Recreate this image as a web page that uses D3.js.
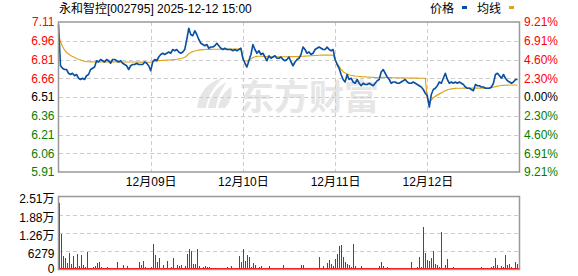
<!DOCTYPE html>
<html>
<head>
<meta charset="utf-8">
<script src="https://cdn.jsdelivr.net/npm/d3@7"></script>
<style>
html, body { margin: 0; padding: 0; background: #fff; }
svg { display: block; }
</style>
</head>
<body>
<svg id="drawing_region"></svg>
<script>
// 5-day minute chart, one value every ~5 minutes (46 per day)
const title = '永和智控[002795] 2025-12-12 15:00';
const days = ['12月08日', '12月09日', '12月10日', '12月11日', '12月12日'];
const preClose = 6.51;
const priceTicks = [7.11, 6.96, 6.81, 6.66, 6.51, 6.36, 6.21, 6.06, 5.91];
const pctLabels = ['9.21%', '6.91%', '4.60%', '2.30%', '0.00%', '2.30%', '4.60%', '6.91%', '9.21%'];
const volTicks = [25116, 18837, 12558, 6279, 0];
const volLabels = ['2.51万', '1.88万', '1.26万', '6279', '0'];

const price1 = [7.09,6.76,6.74,6.73,6.73,6.70,6.69,6.70,6.68,6.69,6.66,6.65,6.66,6.65,6.68,6.69,6.73,6.74,6.75,6.80,6.79,6.81,6.80,6.79,6.81,6.80,6.78,6.81,6.81,6.80,6.79,6.80,6.78,6.77,6.76,6.73,6.76,6.77,6.77,6.78,6.77,6.77,6.77,6.79,6.78,6.76];
const price2 = [6.72,6.79,6.81,6.80,6.83,6.85,6.86,6.85,6.86,6.87,6.86,6.89,6.88,6.89,6.87,6.86,6.87,6.89,6.97,7.06,7.01,7.00,7.04,7.01,6.97,6.94,6.93,6.92,6.93,6.90,6.91,6.91,6.92,6.94,6.92,6.90,6.89,6.90,6.89,6.89,6.89,6.88,6.89,6.88,6.89,6.90];
const price3 = [6.82,6.78,6.75,6.80,6.85,6.93,6.89,6.86,6.88,6.85,6.86,6.83,6.80,6.84,6.82,6.83,6.84,6.82,6.82,6.83,6.81,6.80,6.81,6.83,6.79,6.76,6.79,6.81,6.82,6.85,6.91,6.89,6.86,6.87,6.85,6.86,6.89,6.90,6.91,6.90,6.89,6.89,6.91,6.89,6.88,6.89];
const price4 = [6.81,6.77,6.74,6.69,6.65,6.63,6.69,6.65,6.66,6.63,6.62,6.65,6.62,6.60,6.62,6.61,6.61,6.62,6.61,6.60,6.62,6.64,6.65,6.71,6.73,6.70,6.67,6.65,6.62,6.63,6.63,6.62,6.62,6.63,6.64,6.65,6.63,6.62,6.62,6.63,6.62,6.61,6.60,6.59,6.57,6.54];
const price5 = [6.52,6.43,6.53,6.57,6.58,6.60,6.63,6.62,6.66,6.70,6.65,6.62,6.63,6.62,6.63,6.62,6.63,6.62,6.61,6.59,6.58,6.58,6.57,6.56,6.61,6.60,6.60,6.59,6.59,6.58,6.58,6.58,6.59,6.62,6.69,6.70,6.68,6.66,6.69,6.66,6.64,6.63,6.62,6.63,6.65,6.65];

const avg1 = [7.010,6.950,6.914,6.886,6.866,6.854,6.842,6.834,6.826,6.818,6.812,6.806,6.801,6.796,6.793,6.792,6.791,6.791,6.790,6.790,6.790,6.790,6.790,6.791,6.791,6.791,6.791,6.791,6.791,6.790,6.790,6.790,6.790,6.790,6.790,6.790,6.790,6.790,6.790,6.790,6.789,6.789,6.789,6.789,6.789,6.788];
const avg2 = [6.788,6.792,6.796,6.799,6.801,6.802,6.803,6.804,6.805,6.806,6.807,6.808,6.810,6.812,6.815,6.818,6.822,6.828,6.840,6.856,6.866,6.873,6.878,6.882,6.885,6.887,6.889,6.890,6.891,6.891,6.891,6.892,6.892,6.892,6.892,6.893,6.893,6.893,6.893,6.893,6.893,6.893,6.893,6.893,6.893,6.893];
const avg3 = [6.810,6.800,6.797,6.803,6.815,6.826,6.832,6.835,6.836,6.836,6.835,6.834,6.833,6.833,6.832,6.832,6.832,6.832,6.832,6.832,6.832,6.832,6.832,6.833,6.833,6.833,6.833,6.833,6.833,6.834,6.836,6.837,6.838,6.839,6.840,6.841,6.842,6.843,6.844,6.845,6.845,6.845,6.845,6.845,6.845,6.845];
const avg4 = [6.810,6.780,6.755,6.730,6.712,6.702,6.694,6.688,6.684,6.681,6.678,6.676,6.674,6.673,6.672,6.671,6.670,6.669,6.668,6.667,6.666,6.666,6.666,6.667,6.667,6.667,6.666,6.665,6.665,6.664,6.664,6.664,6.663,6.663,6.663,6.662,6.662,6.662,6.661,6.661,6.661,6.661,6.660,6.660,6.660,6.660];
const avg5 = [6.500,6.465,6.486,6.505,6.515,6.525,6.535,6.543,6.552,6.560,6.567,6.572,6.575,6.577,6.579,6.580,6.580,6.580,6.581,6.581,6.581,6.581,6.581,6.581,6.581,6.581,6.581,6.581,6.581,6.581,6.582,6.582,6.584,6.588,6.593,6.597,6.600,6.602,6.603,6.604,6.605,6.606,6.606,6.606,6.606,6.606];

const vol1 = [23000,12300,4500,4000,2300,5800,2000,4700,900,5300,1200,5000,1500,700,6100,600,500,800,1200,2300,2500,700,400,500,1000,300,600,400,300,2700,300,400,1700,300,1200,600,300,300,300,300,2500,1500,2800,1000,500,400];
const vol2 = [700,8700,5000,2500,3800,500,1700,500,3000,400,800,3800,600,1700,1200,1500,600,1200,5300,7000,6500,1800,1800,7000,1200,500,800,1200,900,1000,400,600,300,500,300,300,400,300,800,300,1200,400,300,600,4700,2600];
const vol3 = [7000,3000,5000,4200,800,2300,1600,500,700,1200,400,300,600,1200,300,200,300,500,200,300,1500,300,200,300,200,200,300,200,600,1500,1700,300,200,200,300,200,400,500,4200,300,1200,300,2300,3200,1800,1200];
const vol4 = [3600,5300,8100,8400,4200,2700,2000,1500,1000,8900,1200,500,300,1200,300,200,200,300,400,200,300,600,1200,2700,1200,500,900,300,200,300,200,300,200,300,200,300,300,300,2500,500,200,900,4200,800,14600,5600];
const vol5 = [3400,3000,4000,6200,2000,1500,800,13000,600,1500,3600,500,300,900,300,200,200,300,400,400,400,200,200,500,200,200,300,700,200,200,300,200,900,1200,3800,1500,600,1200,800,5100,1500,1800,1000,600,2700,1800];

// 1 = up minute (red), 0 = down minute (green)
const up1 = '1000111111' + '1011110111' + '1110111011' + '1101011011' + '111101';
const up2 = '1010110101' + '1111111101' + '1111111000' + '1101111111' + '101101';
const up3 = '1010111111' + '1110111111' + '0111111111' + '0111111111' + '111111';
const up4 = '0110110010' + '0110111001' + '1101010111' + '1111111100' + '110101';
const up5 = '0101101110' + '0111110001' + '1111111111' + '1111110010' + '110010';

class MinuteChart {

    constructor( config ) {
        this.config = {
            parent: config.parent,
            width: config.width || 578,
            height: config.height || 276,
            left: 58.5,
            right: 519.5,
            top: 22,
            bottom: 172,
            vtop: 196.5,
            vbottom: 269.5
        };
        this.init();
    }

    init() {
        let self = this;
        self.per_day = price1.length;
        self.price = [price1, price2, price3, price4, price5].flat();
        self.avg = [avg1, avg2, avg3, avg4, avg5].flat();
        self.vol = [vol1, vol2, vol3, vol4, vol5].flat();
        self.up = (up1 + up2 + up3 + up4 + up5).split('').map(c => c == '1');

        self.svg = d3.select( self.config.parent )
            .attr('width', self.config.width)
            .attr('height', self.config.height);

        self.xscale = d3.scaleLinear()
            .domain([0, days.length * self.per_day])
            .range([self.config.left, self.config.right]);

        self.yscale = d3.scaleLinear()
            .domain([d3.min(priceTicks), d3.max(priceTicks)])
            .range([self.config.bottom, self.config.top]);

        self.vscale = d3.scaleLinear()
            .domain([0, d3.max(volTicks)])
            .range([self.config.vbottom, self.config.vtop]);

        self.line = d3.line()
            .x( (d, i) => self.xscale(i) )
            .y( d => self.yscale(d) );
    }

    render() {
        let self = this;
        const c = self.config;
        const font = '"Liberation Sans", Arial, "Noto Sans CJK SC", sans-serif';
        const tickColor = v => v > preClose ? '#ff0000' : (v < preClose ? '#008000' : '#000');

        // watermark
        const wm = self.svg.append('g').attr('fill', '#e6e6e6');
        wm.append('path').attr('d', 'M197,108 C199,93 207,82 223,78 C214,86 208,96 206,108 Z');
        wm.append('path').attr('d', 'M208,108 C210,96 216,87 227,82 C221,90 217,99 216,108 Z');
        wm.append('path').attr('d', 'M218,108 C220,99 224,91 231,87 C233,95 230,103 225,108 Z');
        wm.append('text')
            .attr('x', 239)
            .attr('y', 110)
            .attr('font-family', '"Noto Sans CJK SC", sans-serif')
            .attr('font-weight', 'bold')
            .attr('font-size', '35px')
            .text('东方财富');

        // grid
        const grid = self.svg.append('g')
            .attr('stroke', '#cccccc')
            .attr('stroke-dasharray', '4,3')
            .attr('shape-rendering', 'crispEdges');
        grid.selectAll('.hg')
            .data(priceTicks.slice(1, -1))
            .join('line')
            .attr('x1', c.left).attr('x2', c.right)
            .attr('y1', d => Math.round(self.yscale(d)) + 0.5)
            .attr('y2', d => Math.round(self.yscale(d)) + 0.5);
        grid.selectAll('.vg')
            .data(d3.range(1, days.length))
            .join('line')
            .attr('x1', d => Math.round(self.xscale(d * self.per_day)) + 0.5)
            .attr('x2', d => Math.round(self.xscale(d * self.per_day)) + 0.5)
            .attr('y1', c.top).attr('y2', c.bottom);
        grid.selectAll('.vvg')
            .data(volTicks.slice(1, -1))
            .join('line')
            .attr('x1', c.left).attr('x2', c.right)
            .attr('y1', d => Math.round(self.vscale(d)) + 0.5)
            .attr('y2', d => Math.round(self.vscale(d)) + 0.5);

        // volume bars
        self.svg.append('line')
            .attr('x1', c.left).attr('x2', c.right)
            .attr('y1', c.vbottom - 1).attr('y2', c.vbottom - 1)
            .attr('stroke', '#ff0000')
            .attr('stroke-width', 1);
        self.svg.append('g')
            .attr('shape-rendering', 'crispEdges')
            .selectAll('rect')
            .data(self.vol)
            .join('rect')
            .attr('x', (d, i) => Math.round(self.xscale(i)))
            .attr('width', 1)
            .attr('y', d => Math.min(self.vscale(d), c.vbottom - 1.5))
            .attr('height', d => Math.max(1.5, c.vbottom - self.vscale(d)))
            .attr('fill', (d, i) => self.up[i] ? '#ff0000' : '#008000');

        // price and average lines
        self.svg.append('path')
            .attr('d', self.line(self.avg))
            .attr('stroke', '#e0a31c')
            .attr('stroke-width', 1.2)
            .attr('fill', 'none');
        self.svg.append('path')
            .attr('d', self.line(self.price))
            .attr('stroke', '#0a4fa0')
            .attr('stroke-width', 1.6)
            .attr('stroke-linejoin', 'round')
            .attr('fill', 'none');

        // frames
        [[c.top, c.bottom], [c.vtop, c.vbottom]].forEach(([t, b]) => {
            self.svg.append('rect')
                .attr('x', c.left).attr('y', t)
                .attr('width', c.right - c.left).attr('height', b - t)
                .attr('fill', 'none')
                .attr('stroke', '#999999')
                .attr('stroke-width', 1.5);
        });

        // axes
        const left = self.svg.append('g')
            .attr('transform', `translate(${c.left}, 0)`)
            .call( d3.axisLeft(self.yscale).tickValues(priceTicks).tickSize(0).tickPadding(4).tickFormat(d3.format('.2f')) );
        const right = self.svg.append('g')
            .attr('transform', `translate(${c.right}, 0)`)
            .call( d3.axisRight(self.yscale).tickValues(priceTicks).tickSize(0).tickPadding(4.5).tickFormat((d, i) => pctLabels[i]) );
        [left, right].forEach(g => {
            g.select('.domain').remove();
            g.selectAll('text')
                .attr('font-family', font)
                .attr('font-size', 12)
                .attr('fill', d => tickColor(d));
        });

        const bottom = self.svg.append('g')
            .attr('transform', `translate(0, ${c.bottom})`)
            .call( d3.axisBottom(self.xscale)
                .tickValues(d3.range(1, days.length).map(d => d * self.per_day))
                .tickSize(0).tickPadding(5.5)
                .tickFormat((d, i) => days[i + 1]) );
        bottom.select('.domain').remove();
        bottom.selectAll('text')
            .attr('font-family', font)
            .attr('font-size', 12)
            .attr('fill', '#000');

        self.svg.append('g')
            .selectAll('text')
            .data(volTicks)
            .join('text')
            .attr('x', c.left - 4)
            .attr('y', d => self.vscale(d))
            .attr('dy', d => d == 0 ? '0.32em' : '0.57em')
            .attr('text-anchor', 'end')
            .attr('font-family', font)
            .attr('font-size', 12)
            .text((d, i) => volLabels[i]);

        // title and legend
        self.svg.append('text')
            .attr('x', 59).attr('y', 13)
            .attr('font-family', font)
            .attr('font-size', 12)
            .text(title);
        const legend = [['价格', '#0a4fa0', 430], ['均线', '#e0a31c', 477]];
        legend.forEach(([name, color, x]) => {
            self.svg.append('text')
                .attr('x', x).attr('y', 13)
                .attr('font-family', font)
                .attr('font-size', 12)
                .text(name);
            self.svg.append('rect')
                .attr('x', x + 32).attr('y', 6)
                .attr('width', 5).attr('height', 3)
                .attr('fill', color);
        });
    }
}

const chart = new MinuteChart({ parent: '#drawing_region', width: 578, height: 276 });
chart.render();
</script>
</body>
</html>
